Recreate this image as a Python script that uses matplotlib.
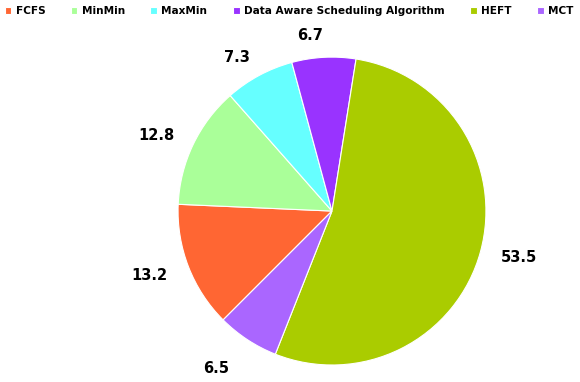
import numpy as np
import matplotlib.pyplot as plt

# Data
algorithms = ["FCFS", "MinMin", "MaxMin", "Data Aware Scheduling Algorithm", "HEFT", "MCT"]
shares = [13.2, 12.8, 7.3, 6.7, 53.5, 6.5]
colors = ["#FF6633", "#AAFF99", "#66FFFF", "#9933FF", "#AACC00", "#AA66FF"]

# how far each value label sits from the centre (in radii)
label_dist = [1.15, 1.13, 1.13, 1.14, 1.14, 1.22]

fig = plt.figure(figsize=(5.8, 3.82), dpi=100)
ax = fig.add_axes([0.3069, 0.0445, 0.531, 0.806])

wedges, texts = ax.pie(
    shares,
    colors=colors,
    labels=[f"{v:.1f}" for v in shares],
    startangle=225,
    counterclock=False,
    wedgeprops=dict(edgecolor="white", linewidth=0.8),
    textprops=dict(fontsize=10.5, fontweight="bold", color="black"),
)
for w, t, d in zip(wedges, texts, label_dist):
    ang = np.deg2rad((w.theta1 + w.theta2) / 2)
    t.set_position((d * np.cos(ang), d * np.sin(ang)))

ax.set_xlim(-1, 1)
ax.set_ylim(-1, 1)
ax.set_aspect("equal")

fig.legend(
    wedges, algorithms,
    loc="upper left", bbox_to_anchor=(-0.003, 1.0),
    ncol=6, frameon=False,
    prop=dict(size=7.6, weight="bold"),
    handlelength=0.65, handleheight=0.65, handletextpad=0.4,
    columnspacing=2.4, borderaxespad=0.2,
)

plt.savefig("out.png", dpi=100)
